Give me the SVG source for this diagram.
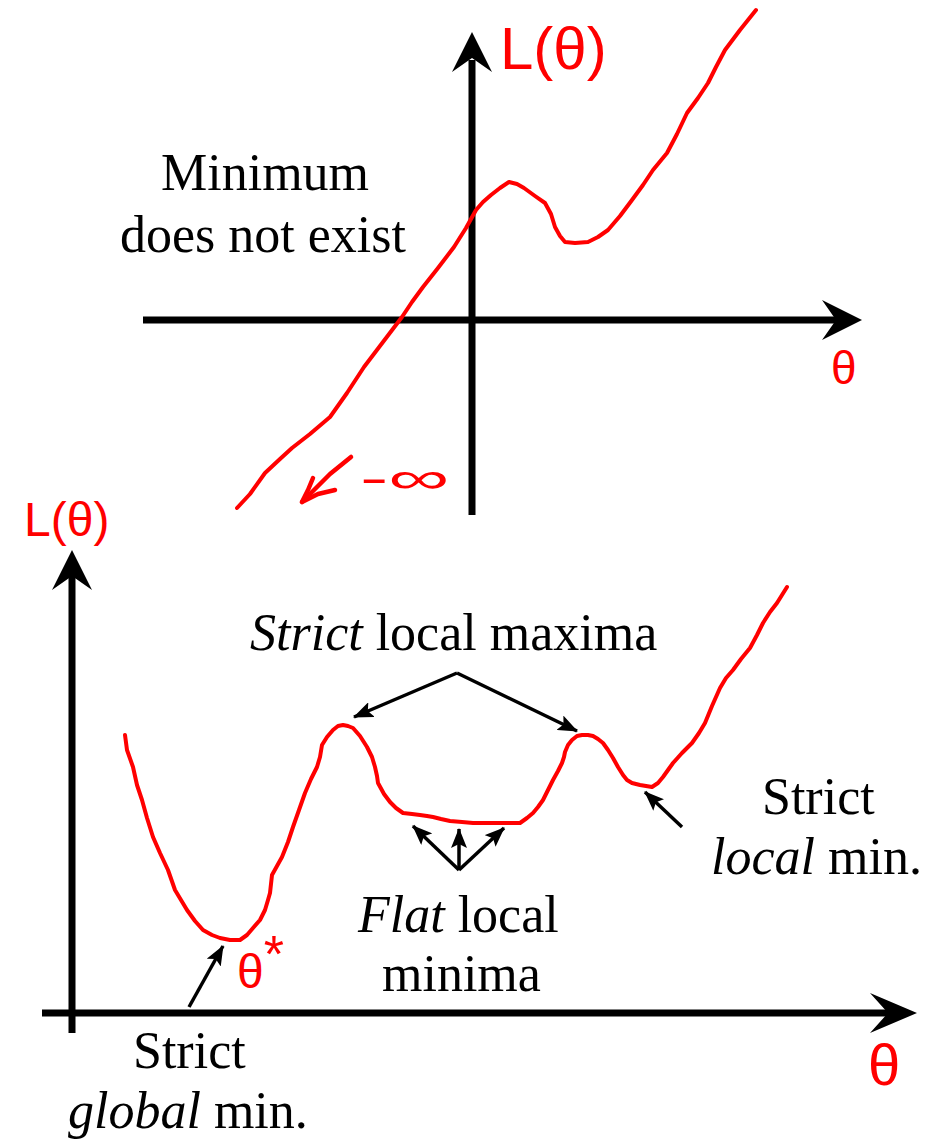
<svg xmlns="http://www.w3.org/2000/svg" width="935" height="1143" viewBox="0 0 935 1143">
  <style>
    .axis { stroke: #000; stroke-width: 7; fill: none; }
    .head { fill: #000; stroke: none; }
    .arrow { stroke: #000; stroke-width: 3.5; fill: none; marker-end: url(#ah); }
    .curve { stroke: #ff0000; stroke-width: 4; fill: none; stroke-linejoin: round; stroke-linecap: round; }
    .pen { stroke: #ff0000; stroke-width: 4.5; fill: none; stroke-linejoin: round; stroke-linecap: round; }
    .lbl { font-family: "Liberation Serif", "Times New Roman", serif; font-size: 52px; fill: #000; }
    .it { font-style: italic; }
    .hand { font-family: "Liberation Sans", Arial, sans-serif; fill: #ff0000; }
  </style>
  <defs>
    <marker id="ah" viewBox="0 0 20 16" refX="19" refY="8" markerWidth="20" markerHeight="16" markerUnits="userSpaceOnUse" orient="auto">
      <path d="M0,0 L20,8 L0,16 L4,8 z" fill="#000"/>
    </marker>
  </defs>
  <rect width="935" height="1143" fill="#fff"/>

  <!-- Top plot axes -->
  <g id="top-axes">
    <line class="axis" x1="472" y1="515" x2="472" y2="60"/>
    <path class="head" d="M472,32 L492,72 L472,58 L452,72 z"/>
    <line class="axis" x1="143" y1="320" x2="836" y2="320"/>
    <path class="head" d="M862,320 L822,340 L836,320 L822,300 z"/>
  </g>

  <!-- Bottom plot axes -->
  <g id="bottom-axes">
    <line class="axis" x1="72" y1="1033" x2="72" y2="575"/>
    <path class="head" d="M72,550 L92,590 L72,576 L52,590 z"/>
    <line class="axis" x1="42" y1="1013" x2="890" y2="1013"/>
    <path class="head" d="M917,1013 L870,1033 L888,1013 L870,993 z"/>
  </g>

  <!-- Top curve -->
  <g id="top-curve">
    <polyline class="curve" points="237,508 250,494 265,473 280,459 292,448 310,434 330,417 347,393 364,367 383,342 402,317 412,302 423,287 438,268 454,247 466,228 476,210 483,202 491,195 500,188 509,182 517,184 524,188 535,196 545,203 551,214 555,227 560,236 565,242 575,243 588,242 598,237 608,230 620,216 632,200 643,185 653,170 667,153 677,134 687,113 698,98 708,83 716,67 725,50 740,30 756,10"/>
  </g>

  <!-- Minus infinity annotation -->
  <g id="minus-infinity">
    <polyline class="pen" points="351,457 330,474 302,502"/>
    <polyline class="pen" points="313,478 308,490 302,502 318,494 335,490"/>
    <text class="hand" x="360" y="493" font-size="44" textLength="89" lengthAdjust="spacingAndGlyphs">-∞</text>
  </g>

  <!-- Bottom curve -->
  <g id="bottom-curve">
    <polyline class="curve" points="125,735 127,750 133,767 137,785 142,800 147,818 153,837 160,853 168,870 175,890 187,910 195,921 203,930 212,935 220,938 230,940 240,940 247,935 253,928 260,920 265,910 268,900 270,893 271,884 272,875 277,866 282,857 288,842 293,827 299,810 305,793 311,779 317,767 320,757 322,745 327,737 333,730 338,726 343,725 348,726 353,728 360,736 367,747 372,757 375,767 377,776 378,783 384,794 390,802 396,808 403,813 412,814 420,815 427,816 433,817 441,819 450,821 462,822 473,823 490,823 505,823 520,823 527,818 533,813 538,807 543,800 548,790 553,780 558,771 562,763 564,757 565,752 568,745 572,740 577,736 582,735 588,735 593,736 598,739 603,743 608,750 613,758 618,767 623,775 627,780 632,783 636,784 640,785 646,786 652,787 658,783 663,777 668,770 673,763 682,753 692,743 699,733 705,723 712,706 720,688 726,678 733,670 741,659 750,648 757,635 763,623 770,612 777,603 782,595 787,587"/>
  </g>

  <!-- Connectors -->
  <g id="connectors">
    <line class="arrow" x1="457" y1="673" x2="354" y2="717"/>
    <line class="arrow" x1="457" y1="673" x2="577" y2="731"/>
    <line class="arrow" x1="459" y1="870" x2="413" y2="826"/>
    <line class="arrow" x1="459" y1="870" x2="459" y2="829"/>
    <line class="arrow" x1="459" y1="870" x2="504" y2="828"/>
    <line class="arrow" x1="682" y1="827" x2="645" y2="792"/>
    <line class="arrow" x1="189" y1="1007" x2="223" y2="946"/>
  </g>

  <!-- Top labels -->
  <g id="label-top-L">
    <text class="hand" x="500" y="69" font-size="60">L(θ)</text>
  </g>
  <g id="label-top-theta">
    <text class="hand" x="831" y="384" font-size="46">θ</text>
  </g>
  <g id="label-no-minimum">
    <text class="lbl" x="161" y="190">Minimum</text>
    <text class="lbl" x="120" y="252">does not exist</text>
  </g>

  <!-- Bottom labels -->
  <g id="label-bottom-L">
    <text class="hand" x="24" y="536" font-size="48">L(θ)</text>
  </g>
  <g id="label-bottom-theta">
    <text class="hand" x="868" y="1085" font-size="58">θ</text>
  </g>
  <g id="label-theta-star">
    <text class="hand" x="237" y="988" font-size="48">θ<tspan font-size="52" dy="-16">*</tspan></text>
  </g>
  <g id="label-strict-maxima">
    <text class="lbl" x="250" y="650"><tspan class="it">Strict</tspan> local maxima</text>
  </g>
  <g id="label-flat-minima">
    <text class="lbl" x="358" y="932"><tspan class="it">Flat</tspan> local</text>
    <text class="lbl" x="382" y="991">minima</text>
  </g>
  <g id="label-strict-local">
    <text class="lbl" x="762" y="814">Strict</text>
    <text class="lbl" x="711" y="874"><tspan class="it">local</tspan> min.</text>
  </g>
  <g id="label-strict-global">
    <text class="lbl" x="133" y="1068">Strict</text>
    <text class="lbl" x="68" y="1128"><tspan class="it">global</tspan> min.</text>
  </g>
</svg>
